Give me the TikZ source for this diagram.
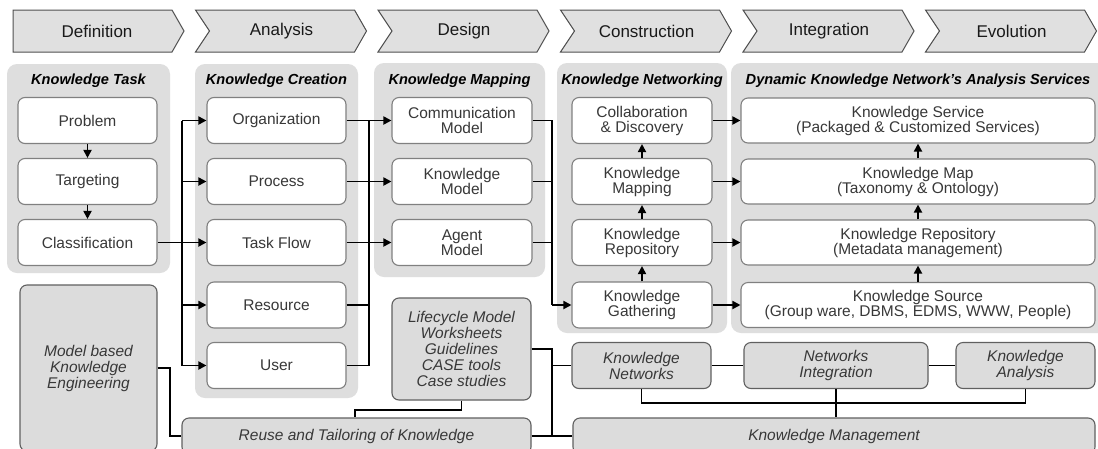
\documentclass[tikz,border=0pt]{standalone}
\usepackage{fontspec}
\setmainfont{Liberation Sans}
\usetikzlibrary{arrows.meta,calc}
\definecolor{panelgray}{HTML}{DEDEDE}
\definecolor{boxgray}{HTML}{DCDCDC}
\definecolor{chevfill}{HTML}{E0E0E0}
\definecolor{chevline}{HTML}{505050}
\definecolor{wline}{HTML}{808080}
\definecolor{gline}{HTML}{606060}
\definecolor{txt}{HTML}{383838}
\begin{document}
\begin{tikzpicture}[x=1pt,y=-1pt,
  panel/.style={fill=panelgray, rounded corners=10pt},
  ptitle/.style={font=\fontsize{14.6}{15}\selectfont\bfseries\itshape, text=black},
  sz/.style 2 args={minimum width=#1pt, minimum height=#2pt},
  wbox/.style={draw=wline, fill=white, line width=1.1pt, rounded corners=7pt, align=center, text=txt, font=\fontsize{15.5}{15}\selectfont, inner sep=0pt},
  gbox/.style={draw=gline, fill=boxgray, line width=1.1pt, rounded corners=7pt, align=center, text=txt, font=\fontsize{15.5}{16}\selectfont\itshape, inner sep=0pt},
  chev/.style={draw=chevline, fill=chevfill, line width=1pt},
  chevtext/.style={font=\fontsize{17}{17}\selectfont, text=black!90},
  conn/.style={line width=1.8pt, black},
  arr/.style={conn, -{Triangle[length=8pt,width=8pt]}},
]
\useasboundingbox (0,0) rectangle (1098,448);
\clip (0,0) rectangle (1098,448);
\fill[white] (0,0) rectangle (1098,448);

% chevrons
\draw[chev] (13,10) -- (172,10) -- (184,31) -- (172,52) -- (13,52) -- cycle;
\node[chevtext] (chev0) at (97,31) {Definition};
\foreach \i/\t in {1/Analysis,2/Design,3/Construction,4/Integration,5/Evolution}{
  \pgfmathsetmacro{\L}{13+182.5*\i}
  \draw[chev] (\L,10) -- (\L+159,10) -- (\L+171,31) -- (\L+159,52) -- (\L,52) -- (\L+14,31) -- cycle;
  \node[chevtext] (chev\i) at (\L+86,31) {\t};
}

% panels
\fill[panel] (7,64) rectangle (170,273);
\fill[panel] (195,64) rectangle (358,398);
\fill[panel] (374,63) rectangle (545,277);
\fill[panel] (557,63) rectangle (727,333);
\fill[panel] (731,63) rectangle (1110,333);

\node[ptitle] (t1) at (88.5,81) {Knowledge Task};
\node[ptitle] (t2) at (276.5,81) {Knowledge Creation};
\node[ptitle] (t3) at (459.5,81) {Knowledge Mapping};
\node[ptitle] (t4) at (642,81) {Knowledge Networking};
\node[ptitle] (t5) at (918,81) {Dynamic Knowledge Network's Analysis Services};

% column 1
\node[wbox, sz={139}{46}] (prob) at (87.5,120.5) {Problem};
\node[wbox, sz={139}{46}] (targ) at (87.5,181.5) {Targeting};
\node[wbox, sz={139}{46}] (class) at (87.5,242.5) {Classification};

% column 2
\node[wbox, sz={139}{46}] (org) at (276.5,120.5) {Organization};
\node[wbox, sz={139}{46}] (proc) at (276.5,181.5) {Process};
\node[wbox, sz={139}{46}] (tflow) at (276.5,242.5) {Task Flow};
\node[wbox, sz={139}{46}] (res) at (276.5,305) {Resource};
\node[wbox, sz={139}{46}] (user) at (276.5,365.5) {User};

% column 3
\node[wbox, sz={140}{46}] (comm) at (462,120.5) {Communication\\Model};
\node[wbox, sz={140}{46}] (kmod) at (462,181.5) {Knowledge\\Model};
\node[wbox, sz={140}{46}] (agent) at (462,242.5) {Agent\\Model};

% column 4
\node[wbox, sz={140}{46}] (collab) at (642,120.5) {Collaboration\\\& Discovery};
\node[wbox, sz={140}{46}] (kmap) at (642,181.5) {Knowledge\\Mapping};
\node[wbox, sz={140}{46}] (krep) at (642,242.5) {Knowledge\\Repository};
\node[wbox, sz={140}{46}] (gath) at (642,305) {Knowledge\\Gathering};

% column 5
\node[wbox, sz={354}{45}] (svc) at (918,120.5) {Knowledge Service\\(Packaged \& Customized Services)};
\node[wbox, sz={354}{45}] (map) at (918,181.5) {Knowledge Map\\(Taxonomy \& Ontology)};
\node[wbox, sz={354}{45}] (repo) at (918,242.5) {Knowledge Repository\\(Metadata management)};
\node[wbox, sz={354}{45}] (src) at (918,305) {Knowledge Source\\(Group ware, DBMS, EDMS, WWW, People)};

% gray boxes
\node[gbox, sz={137}{166}] (mke) at (88.5,368) {Model based\\Knowledge\\Engineering};
\node[gbox, sz={139}{102}] (life) at (461.5,349) {Lifecycle Model\\Worksheets\\Guidelines\\CASE tools\\Case studies};
\node[gbox, sz={349}{36}] (reuse) at (356.5,436) {Reuse and Tailoring of Knowledge};
\node[gbox, sz={139}{46}] (kn) at (641.5,365.5) {Knowledge\\Networks};
\node[gbox, sz={184}{46}] (ni) at (836,365.5) {Networks\\Integration};
\node[gbox, sz={139}{46}] (ka) at (1025.5,365.5) {Knowledge\\Analysis};
\node[gbox, sz={522}{36}] (km) at (834,436) {Knowledge Management};

% helper coordinates
\coordinate (v1) at (182,0);
\coordinate (v2) at (369,0);
\coordinate (v3) at (552,0);
\coordinate (m1) at (170,0);
\coordinate (l1) at (355,0);
\coordinate (lk) at (0,410);
\coordinate (bk) at (0,403);

% column 1 arrows
\draw[arr] (prob.south) -- (targ.north);
\draw[arr] (targ.south) -- (class.north);

% column 1 -> column 2
\draw[conn] (v1 |- org.west) -- (v1 |- user.west);
\draw[arr] (class.east) -- (tflow.west);
\draw[arr] (v1 |- org.west) -- (org.west);
\draw[arr] (v1 |- proc.west) -- (proc.west);
\draw[arr] (v1 |- res.west) -- (res.west);
\draw[arr] (v1 |- user.west) -- (user.west);

% column 2 -> column 3
\draw[conn] (v2 |- org.east) -- (v2 |- user.east);
\draw[arr] (org.east) -- (comm.west);
\draw[arr] (proc.east) -- (kmod.west);
\draw[arr] (tflow.east) -- (agent.west);
\draw[conn] (res.east) -- (v2 |- res.east);
\draw[conn] (user.east) -- (v2 |- user.east);

% column 3 -> column 4
\draw[conn] (comm.east) -- (v3 |- comm.east) -- (v3 |- gath.west);
\draw[conn] (kmod.east) -- (v3 |- kmod.east);
\draw[conn] (agent.east) -- (v3 |- agent.east);
\draw[arr] (v3 |- gath.west) -- (gath.west);

% column 4 internal
\draw[arr] (gath.north) -- (krep.south);
\draw[arr] (krep.north) -- (kmap.south);
\draw[arr] (kmap.north) -- (collab.south);

% column 4 -> column 5
\draw[arr] (collab.east) -- (svc.west);
\draw[arr] (kmap.east) -- (map.west);
\draw[arr] (krep.east) -- (repo.west);
\draw[arr] (gath.east) -- (src.west);

% column 5 internal
\draw[arr] (src.north) -- (repo.south);
\draw[arr] (repo.north) -- (map.south);
\draw[arr] (map.north) -- (svc.south);

% bottom connections
\draw[conn] (mke.east) -| (m1 |- reuse.west) -- (reuse.west);
\draw[conn] (life.south) -- (life.south |- lk) -| (l1 |- reuse.north);
\draw[conn] (life.east) -- (v3 |- life.east) -- (v3 |- reuse.east);
\draw[conn] (v3 |- kn.west) -- (kn.west);
\draw[conn] (reuse.east) -- (km.west);
\draw[conn] (kn.east) -- (ni.west);
\draw[conn] (ni.east) -- (ka.west);
\draw[conn] (kn.south) -- (kn.south |- bk) -| (ka.south);
\draw[conn] (ni.south) -- (ni.south |- km.north);
\end{tikzpicture}
\end{document}
